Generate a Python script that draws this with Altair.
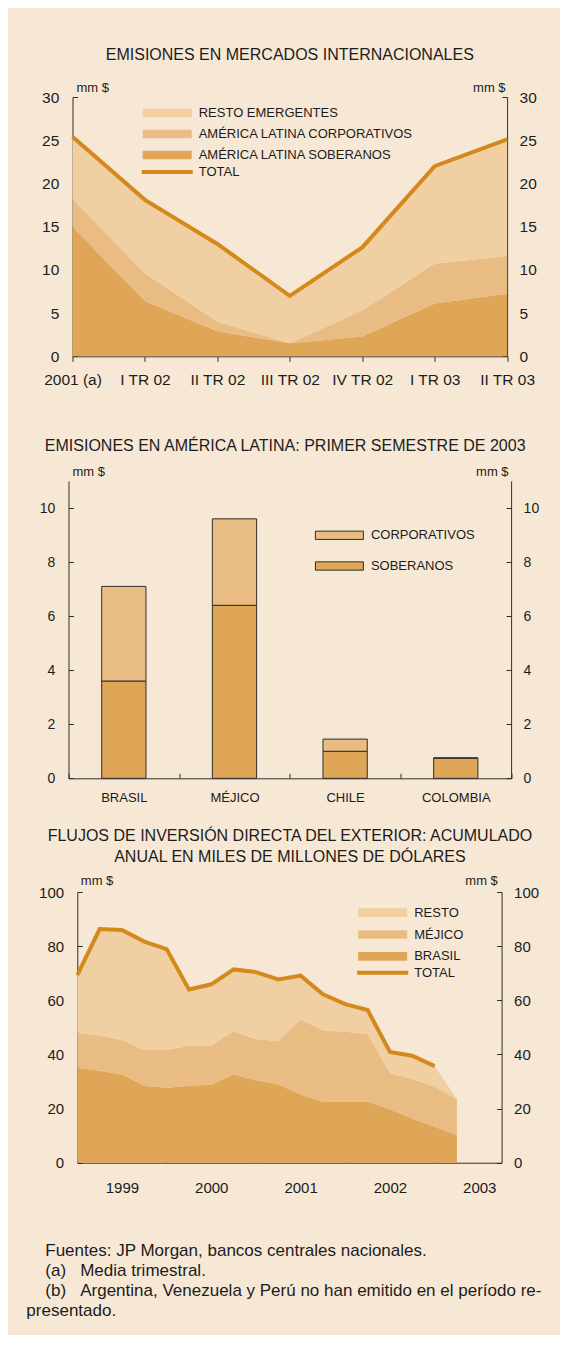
import altair as alt
import pandas as pd

# ---------------- data ----------------
top_quarters = ["2001 (a)", "I TR 02", "II TR 02", "III TR 02", "IV TR 02", "I TR 03", "II TR 03"]
top_series = ["RESTO EMERGENTES", "AMÉRICA LATINA CORPORATIVOS", "AMÉRICA LATINA SOBERANOS"]
top_soberanos = [15.0, 6.4, 2.9, 1.5, 2.3, 6.1, 7.25]
top_corporativos = [3.2, 3.2, 1.1, 0.0, 3.0, 4.6, 4.35]
top_resto = [7.2, 8.5, 9.0, 5.5, 7.3, 11.3, 13.5]
top_total = [25.4, 18.1, 13.0, 7.0, 12.6, 22.0, 25.1]
top_ticks = [0, 5, 10, 15, 20, 25, 30]

bar_countries = ["BRASIL", "MÉJICO", "CHILE", "COLOMBIA"]
bar_series = ["CORPORATIVOS", "SOBERANOS"]
bar_soberanos = [3.6, 6.4, 1.0, 0.75]
bar_corporativos = [3.5, 3.2, 0.45, 0.0]
bar_ticks = [0, 2, 4, 6, 8, 10]

ied_time = [1999.0, 1999.25, 1999.5, 1999.75, 2000.0, 2000.25, 2000.5, 2000.75,
            2001.0, 2001.25, 2001.5, 2001.75, 2002.0, 2002.25, 2002.5, 2002.75,
            2003.0, 2003.25]
ied_series = ["RESTO", "MÉJICO", "BRASIL"]
ied_brasil = [35.1, 34.0, 32.6, 28.4, 27.7, 28.4, 28.8, 32.6, 30.5, 29.0,
              25.2, 22.5, 22.5, 22.5, 19.7, 16.3, 13.3, 10.2]
ied_mexico = [12.9, 13.0, 12.7, 13.2, 13.9, 14.8, 14.4, 16.0, 15.1, 16.0,
              27.8, 26.3, 25.9, 25.0, 13.3, 14.6, 14.8, 13.2]
ied_resto = [21.3, 39.3, 40.7, 40.1, 37.3, 20.8, 22.7, 22.8, 24.8, 22.7,
             16.1, 13.4, 10.2, 8.9, 7.9, 8.6, 7.6, 0.0]
ied_total = [69.3, 86.3, 86.0, 81.7, 78.9, 64.0, 65.9, 71.4, 70.4, 67.7,
             69.1, 62.2, 58.6, 56.4, 40.9, 39.5, 35.7]
ied_years = [1999, 2000, 2001, 2002, 2003]
ied_ticks = [0, 20, 40, 60, 80, 100]

NB = "\u00a0"
ZW = "\u200b"
footnotes = [
    ZW + NB * 4 + "Fuentes: JP Morgan, bancos centrales nacionales.",
    ZW + NB * 4 + "(a)" + NB * 3 + "Media trimestral.",
    ZW + NB * 4 + "(b)" + NB * 3 + "Argentina, Venezuela y Perú no han emitido en el período re-",
    "presentado.",
]

# ---------------- styles ----------------
FONT = "Liberation Sans"
BG = "#F7E8D5"
INK = "#1c1c1c"
AX = "#2e2e2e"
C_RESTO = "#F0CFA2"
C_CORP = "#E9BC83"
C_SOB = "#E0A657"
C_LINE = "#D4891B"
INWARD = {"expr": "-5"}


def left_axis(values, fs, tx, ty, offset=0):
    return alt.Axis(orient="left", values=values, title="mm $", titleAngle=0,
                    titleAlign="left", titleBaseline="alphabetic", titleX=tx, titleY=ty,
                    titleFontSize=13, titleFontWeight="normal", titleColor=INK, titleFont=FONT,
                    labelFontSize=fs, labelColor=INK, labelFont=FONT, labelPadding=18.7,
                    tickSize=INWARD, tickColor=AX, domainColor=AX, grid=False, offset=offset,
                    labelFlush=False, labelOverlap=False)


def right_axis(values, fs, tx, ty):
    return alt.Axis(orient="right", values=values, title="mm $", titleAngle=0,
                    titleAlign="right", titleBaseline="alphabetic", titleX=tx, titleY=ty,
                    titleFontSize=13, titleFontWeight="normal", titleColor=INK, titleFont=FONT,
                    labelFontSize=fs, labelColor=INK, labelFont=FONT, labelPadding=17,
                    tickSize=INWARD, tickColor=AX, domainColor=AX, grid=False,
                    labelFlush=False, labelOverlap=False)


def box_legend(x, y, rowpad, half_w, half_h, stroke=None, offset=25):
    if stroke:
        kw = dict(symbolStrokeColor=stroke, symbolStrokeWidth=1)
    else:
        kw = dict(symbolStrokeWidth=0)
    return alt.Legend(orient="none", legendX=x, legendY=y, title=None, direction="vertical",
                      padding=0, rowPadding=rowpad, labelOffset=offset, labelLimit=400,
                      labelFontSize=13, labelFont=FONT, labelColor=INK,
                      symbolType=f"M-{half_w},-{half_h}H{half_w}V{half_h}H-{half_w}Z",
                      symbolSize=4, symbolOpacity=1, **kw)


def line_legend(x, y, half_w, offset=25):
    return alt.Legend(orient="none", legendX=x, legendY=y, title=None, direction="vertical",
                      padding=0, labelOffset=offset, labelLimit=400, labelFontSize=13,
                      labelFont=FONT, labelColor=INK, symbolType=f"M-{half_w},0H{half_w}",
                      symbolSize=4, symbolStrokeWidth=4)


def chart_title(text, offset, dx):
    return alt.TitleParams(text=text, fontSize=16, fontWeight="normal", font=FONT, color=INK,
                           offset=offset, anchor="middle", lineHeight=21.7, dx=dx)


# ---------------- top: emisiones en mercados internacionales ----------------
top_area_df = pd.DataFrame(
    [{"q": q, "serie": s, "v": v, "o": o}
     for s, vals, o in [("AMÉRICA LATINA SOBERANOS", top_soberanos, 0),
                        ("AMÉRICA LATINA CORPORATIVOS", top_corporativos, 1),
                        ("RESTO EMERGENTES", top_resto, 2)]
     for q, v in zip(top_quarters, vals)]
)
top_total_df = pd.DataFrame({"q": top_quarters, "v": top_total, "serie": "TOTAL"})

TOP_SHIFT, TOP_W = 4.0, 438.6
x_top = alt.X("q:N", sort=top_quarters,
              scale=alt.Scale(type="point", padding=0, range=[TOP_SHIFT, TOP_W]),
              axis=alt.Axis(title=".", titleOpacity=0, titleFontSize=10, titlePadding=17,
                            labelAngle=0, labelFontSize=15.5, labelFont=FONT,
                            labelColor=INK, labelPadding=11, tickSize=5, tickColor=AX,
                            domainColor=AX, labelOverlap=False, labelFlush=False))
y_top_scale = alt.Scale(domain=[0, 30], nice=False)

top_area = alt.Chart(top_area_df).mark_area(opacity=1).encode(
    x=x_top,
    y=alt.Y("v:Q", stack="zero", scale=y_top_scale,
            axis=left_axis(top_ticks, 15.5, 3.5, -5.5, offset=-TOP_SHIFT)),
    color=alt.Color("serie:N", scale=alt.Scale(domain=top_series, range=[C_RESTO, C_CORP, C_SOB]),
                    legend=box_legend(88.2 + TOP_SHIFT, 9.5, 7, 24.5, 4.35)),
    order=alt.Order("o:Q"),
)
top_line = alt.Chart(top_total_df).mark_line(strokeWidth=4).encode(
    x=x_top,
    y=alt.Y("v:Q", scale=y_top_scale, axis=right_axis(top_ticks, 15.5, -2, -5.5)),
    stroke=alt.Stroke("serie:N", scale=alt.Scale(domain=["TOTAL"], range=[C_LINE]),
                      legend=line_legend(88.2 + TOP_SHIFT, 68.5, 25.5)),
)
top = alt.layer(top_area, top_line).resolve_scale(y="shared").resolve_axis(y="independent").properties(
    width=TOP_W, height=259.3,
    title=chart_title("EMISIONES EN MERCADOS INTERNACIONALES", 19, 2),
)

# ---------------- middle: emisiones en america latina ----------------
bar_df = pd.DataFrame(
    [{"pais": p, "serie": s, "v": v, "o": o}
     for s, vals, o in [("SOBERANOS", bar_soberanos, 0), ("CORPORATIVOS", bar_corporativos, 1)]
     for p, v in zip(bar_countries, vals)]
)
x_bar = alt.X("pais:N", sort=bar_countries, scale=alt.Scale(paddingInner=0, paddingOuter=0),
              axis=alt.Axis(title=None, labelAngle=0, labelFontSize=13, labelFont=FONT,
                            labelColor=INK, labelPadding=17.8, tickSize=INWARD, tickColor=AX,
                            domainColor=AX, tickBand="extent"))
y_bar_scale = alt.Scale(domain=[0, 11], nice=False)

bars = alt.Chart(bar_df).mark_bar(stroke=AX, strokeWidth=1, width={"band": 0.4}).encode(
    x=x_bar,
    y=alt.Y("v:Q", stack="zero", scale=y_bar_scale, axis=left_axis(bar_ticks, 14, 3.5, -5.5)),
    color=alt.Color("serie:N", scale=alt.Scale(domain=bar_series, range=[C_CORP, C_SOB]),
                    legend=box_legend(264.4, 47.8, 16.7, 24, 4.15, stroke=AX)),
    order=alt.Order("o:Q"),
)
bars_right = alt.Chart(bar_df).mark_bar(opacity=0, width={"band": 0.4}).encode(
    x=x_bar,
    y=alt.Y("v:Q", stack="zero", scale=y_bar_scale, axis=right_axis(bar_ticks, 14, -3, -5.5)),
)
mid = alt.layer(bars, bars_right).resolve_scale(y="shared").resolve_axis(y="independent").properties(
    width=442.6, height=297.3,
    title=chart_title("EMISIONES EN AMÉRICA LATINA: PRIMER SEMESTRE DE 2003", 11.8, -4.6),
)

# ---------------- bottom: inversion directa ----------------
ied_area_df = pd.DataFrame(
    [{"t": t, "serie": s, "v": v, "o": o}
     for s, vals, o in [("BRASIL", ied_brasil, 0), ("MÉJICO", ied_mexico, 1), ("RESTO", ied_resto, 2)]
     for t, v in zip(ied_time, vals)]
)
ied_total_df = pd.DataFrame({"t": ied_time[:len(ied_total)], "v": ied_total, "serie": "TOTAL"})

BOT_SHIFT, BOT_W = 8.8, 433.1
x_ied = alt.X("t:Q", scale=alt.Scale(domain=[1999, 2003.75], nice=False, zero=False,
                                     range=[BOT_SHIFT, BOT_W]),
              axis=alt.Axis(title=None, values=ied_years, format="d", labelFontSize=15,
                            labelFont=FONT, labelColor=INK, labelOffset=44.65, labelPadding=22.5,
                            tickSize=INWARD, tickColor=AX, domainColor=AX, labelFlush=False,
                            labelOverlap=False, grid=False))
y_ied_scale = alt.Scale(domain=[0, 100], nice=False)

ied_area = alt.Chart(ied_area_df).mark_area(opacity=1).encode(
    x=x_ied,
    y=alt.Y("v:Q", stack="zero", scale=y_ied_scale,
            axis=left_axis(ied_ticks, 15, 3, -7.5, offset=-BOT_SHIFT)),
    color=alt.Color("serie:N", scale=alt.Scale(domain=ied_series, range=[C_RESTO, C_CORP, C_SOB]),
                    legend=box_legend(298.9 + BOT_SHIFT, 14.2, 7.8, 24.5, 4.35)),
    order=alt.Order("o:Q"),
)
ied_line = alt.Chart(ied_total_df).mark_line(strokeWidth=4).encode(
    x=x_ied,
    y=alt.Y("v:Q", scale=y_ied_scale, axis=right_axis(ied_ticks, 15, -4.3, -7.5)),
    stroke=alt.Stroke("serie:N", scale=alt.Scale(domain=["TOTAL"], range=[C_LINE]),
                      legend=line_legend(298.9 + BOT_SHIFT, 74.2, 25.5)),
)
bot = alt.layer(ied_area, ied_line).resolve_scale(y="shared").resolve_axis(y="independent").properties(
    width=BOT_W, height=270.7,
    title=chart_title(["FLUJOS DE INVERSIÓN DIRECTA DEL EXTERIOR: ACUMULADO",
                       "ANUAL EN MILES DE MILLONES DE DÓLARES"], 9.2, 4.9),
)

chart = alt.concat(top, mid, bot, columns=1, spacing=22).resolve_scale(
    color="independent", stroke="independent"
).properties(
    background=BG,
    padding={"left": 17.5, "top": 38, "right": 18, "bottom": 16},
    title=alt.TitleParams(text=footnotes, orient="bottom", anchor="start", fontSize=17,
                          fontWeight="normal", font=FONT, color=INK, lineHeight=19.8,
                          offset=48, dx=-12.2),
).configure_view(stroke=None)

chart.save("out.html", embed_options={"renderer": "svg", "actions": False})
